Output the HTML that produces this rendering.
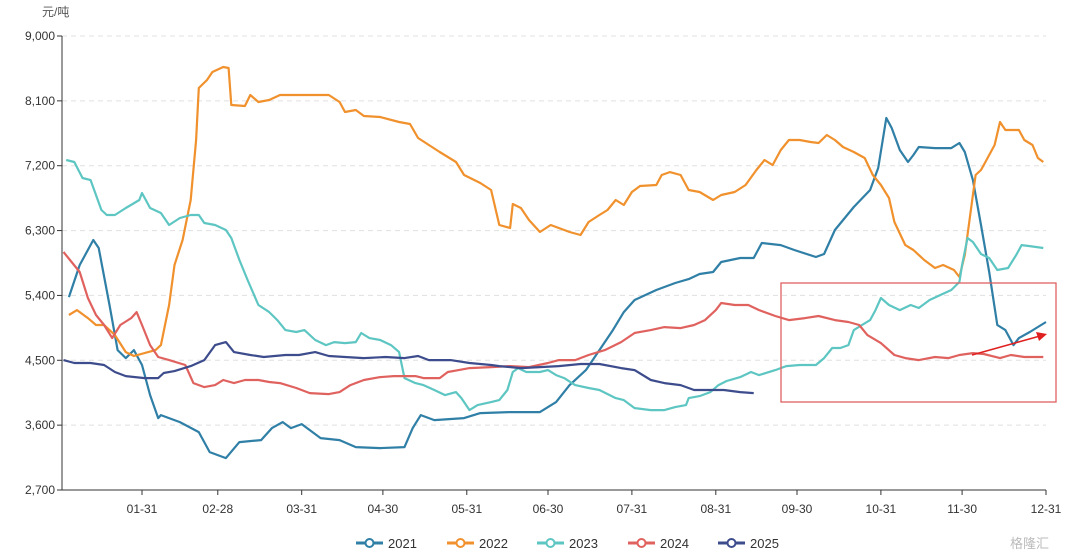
<!DOCTYPE html>
<html><head><meta charset="utf-8"><style>
html,body{margin:0;padding:0;background:#fff;}
svg{display:block;font-family:"Liberation Sans","Noto Sans CJK SC",sans-serif;}
</style></head><body>
<svg id="chart" width="1080" height="558"></svg>
<script>
const yTicks=[2700,3600,4500,5400,6300,7200,8100,9000];
const yTickLabels=["2,700","3,600","4,500","5,400","6,300","7,200","8,100","9,000"];
const xTickDays=[31,59,90,120,151,181,212,243,273,304,334,365];
const xTickLabels=["01-31","02-28","03-31","04-30","05-31","06-30","07-31","08-31","09-30","10-31","11-30","12-31"];
const seriesNames=["2021","2022","2023","2024","2025"];
const seriesColors=["#2f7fa6","#f0912d","#5ec6c2","#e0625f","#3d4c8c"];
const days2021=[4,8,13,15,19,22,25,28,31,34,37,38,45,52,56,62,67,75,79,83,86,90,97,104,110,119,128,131,134,139,150,156,167,178,184,189,195,200,205,209,213,221,228,233,237,242,245,252,257,260,267,272,280,283,287,294,300,303,306,308,311,314,316,318,324,330,333,335,338,341,344,347,350,353,355,359,365];
const vals2021=[5377,5822,6169,6058,5267,4642,4531,4642,4434,4017,3698,3740,3642,3504,3226,3143,3365,3392,3559,3642,3559,3615,3420,3392,3295,3282,3295,3559,3740,3670,3698,3767,3781,3781,3920,4156,4364,4642,4919,5169,5336,5475,5572,5627,5697,5725,5864,5919,5919,6127,6099,6030,5933,5975,6308,6627,6863,7168,7862,7723,7418,7251,7348,7459,7445,7445,7515,7390,7001,6377,5725,4989,4919,4711,4808,4892,5031];
const days2022=[4,7,11,14,17,21,25,28,36,38,41,43,46,49,51,52,55,57,61,63,64,69,71,74,78,82,89,93,100,104,106,110,113,119,126,130,133,137,141,147,150,156,160,163,167,168,171,174,178,182,185,189,193,196,200,203,206,209,212,215,221,223,226,230,233,237,242,245,250,254,258,261,264,267,270,274,278,281,284,287,290,294,298,301,304,307,309,313,316,320,324,327,331,333,335,337,339,341,343,346,348,350,355,357,360,362,364];
const vals2022=[5128,5197,5086,4989,4989,4850,4614,4559,4642,4711,5267,5822,6169,6724,7557,8279,8389,8500,8570,8556,8042,8028,8181,8084,8112,8181,8181,8181,8181,8084,7945,7973,7890,7876,7806,7779,7584,7487,7390,7251,7071,6960,6863,6377,6336,6669,6613,6447,6280,6377,6336,6280,6239,6419,6516,6585,6724,6655,6835,6918,6932,7071,7112,7071,6863,6835,6724,6793,6835,6932,7140,7279,7209,7418,7557,7557,7529,7515,7626,7557,7459,7390,7307,7071,6932,6752,6419,6099,6030,5892,5781,5822,5753,5656,5961,6516,7071,7140,7279,7487,7806,7696,7696,7557,7487,7307,7251];
const days2023=[3,6,9,12,16,18,21,25,30,31,34,38,41,45,49,52,54,58,62,64,67,70,74,78,81,84,88,91,95,99,102,106,110,112,115,119,123,126,128,132,135,139,143,147,149,152,155,160,163,166,168,170,173,178,181,184,187,191,196,200,206,209,213,219,224,228,232,233,237,241,244,247,252,256,259,265,269,274,280,283,286,289,292,294,297,300,302,304,307,311,315,318,322,326,330,333,334,336,338,341,344,347,351,354,356,359,364];
const vals2023=[7279,7251,7029,7001,6585,6516,6516,6613,6724,6821,6613,6544,6377,6475,6516,6516,6405,6377,6308,6197,5892,5614,5267,5169,5058,4919,4892,4919,4781,4711,4753,4739,4753,4878,4808,4781,4711,4614,4253,4184,4156,4087,4017,4059,3975,3809,3878,3920,3948,4087,4337,4392,4337,4337,4364,4295,4253,4156,4115,4087,3975,3948,3837,3809,3809,3850,3878,3975,4003,4059,4156,4212,4267,4337,4295,4364,4420,4434,4434,4531,4670,4670,4711,4919,4989,5058,5197,5364,5267,5197,5267,5225,5336,5406,5475,5586,5822,6197,6141,5975,5919,5753,5781,5961,6099,6085,6058];
const days2024=[2,5,8,11,14,17,20,23,27,29,31,34,37,41,47,50,54,58,61,65,69,74,78,82,88,93,100,104,108,113,119,124,132,135,141,144,148,152,160,167,174,181,185,191,196,202,208,213,219,224,230,235,239,243,245,250,255,259,265,270,276,281,287,292,296,299,304,309,313,318,324,329,333,338,342,348,352,357,364];
const vals2024=[6003,5864,5725,5364,5128,4989,4808,4989,5086,5169,4989,4711,4545,4503,4434,4184,4128,4156,4226,4184,4226,4226,4198,4184,4115,4045,4031,4059,4156,4226,4267,4281,4281,4253,4253,4337,4364,4392,4406,4420,4406,4462,4503,4503,4573,4642,4753,4878,4919,4961,4947,4989,5058,5197,5295,5267,5267,5197,5114,5058,5086,5114,5058,5031,4989,4850,4739,4573,4531,4503,4545,4531,4573,4600,4587,4531,4573,4545,4545];
const days2025=[2,6,12,17,21,25,32,37,39,43,49,54,58,62,65,71,76,84,89,95,100,106,113,121,128,133,137,145,152,160,163,171,178,185,193,200,208,213,219,224,230,235,241,246,252,257];
const vals2025=[4503,4462,4462,4434,4337,4281,4253,4253,4323,4350,4420,4503,4711,4753,4614,4573,4545,4573,4573,4614,4559,4545,4531,4545,4531,4559,4503,4503,4462,4434,4420,4392,4406,4420,4448,4448,4392,4364,4226,4184,4156,4087,4087,4087,4059,4045];

const svg=document.getElementById('chart');
const NS='http://www.w3.org/2000/svg';
const X0=62,X1=1046,Y0=490,Y1=36;
const xScale=d=>142+(d-31)*(X1-142)/(365-31);
const yScale=v=>Y0-(v-2700)*(Y0-Y1)/(9000-2700);
function mk(tag,attrs,parent){const e=document.createElementNS(NS,tag);for(const k in attrs)e.setAttribute(k,attrs[k]);(parent||svg).appendChild(e);return e;}

const unit=mk('text',{x:42,y:16,'font-size':12,fill:'#555'});
unit.textContent='元/吨';



yTicks.forEach((t,i)=>{
  const y=yScale(t);
  if(i>0){const g=mk('line',{x1:X0,x2:X1,y1:y,y2:y,stroke:'#e0e0e0','stroke-dasharray':'5,4'});
  
  }
  const tk=mk('line',{x1:X0-5,x2:X0,y1:y,y2:y,stroke:'#333'});
  
  
  const l=mk('text',{x:X0-7,y:y+4,'font-size':12,'text-anchor':'end',fill:'#333'});
  l.textContent=yTickLabels[i];
  
  
});
const ya=mk('line',{x1:X0,x2:X0,y1:Y1,y2:Y0,stroke:'#333'});


const xa=mk('line',{x1:X0,x2:X1,y1:Y0,y2:Y0,stroke:'#333'});


xTickDays.forEach((d,i)=>{
  const x=xScale(d);
  const tk=mk('line',{x1:x,x2:x,y1:Y0,y2:Y0+5,stroke:'#333'});
  
  
  const l=mk('text',{x:x,y:Y0+23,'font-size':12,'text-anchor':'middle',fill:'#333'});
  l.textContent=xTickLabels[i];
  
  
});

const allDays=[days2021,days2022,days2023,days2024,days2025];
const allVals=[vals2021,vals2022,vals2023,vals2024,vals2025];
allDays.forEach((ds,si)=>{
  const pts=ds.map((d,i)=>xScale(d).toFixed(1)+','+yScale(allVals[si][i]).toFixed(1)).join(' ');
  const p=mk('polyline',{points:pts,fill:'none',stroke:seriesColors[si],'stroke-width':2.2,'stroke-linejoin':'round'});
  
  
});

const box=mk('rect',{x:781,y:283,width:275,height:119,fill:'none',stroke:'#e06060','stroke-width':1.3});


const ar=mk('line',{x1:972,y1:355,x2:1040,y2:336,stroke:'#e02020','stroke-width':1.5});


const ah=mk('polygon',{points:'1047,334 1036,332 1039,341',fill:'#e02020'});



const legendX=[356,447,537,628,718];
seriesNames.forEach((n,i)=>{
  const g=mk('g',{});
  
  
  mk('line',{x1:legendX[i],x2:legendX[i]+27,y1:543,y2:543,stroke:seriesColors[i],'stroke-width':3},g);
  mk('circle',{cx:legendX[i]+13.5,cy:543,r:4,fill:'#fff',stroke:seriesColors[i],'stroke-width':2},g);
  const t=mk('text',{x:legendX[i]+32,y:548,'font-size':13,fill:'#333'},g);
  t.textContent=n;
});
const wm=mk('text',{x:1010,y:548,'font-size':13,fill:'#bbb'});
wm.textContent='格隆汇';


</script>
</body></html>
